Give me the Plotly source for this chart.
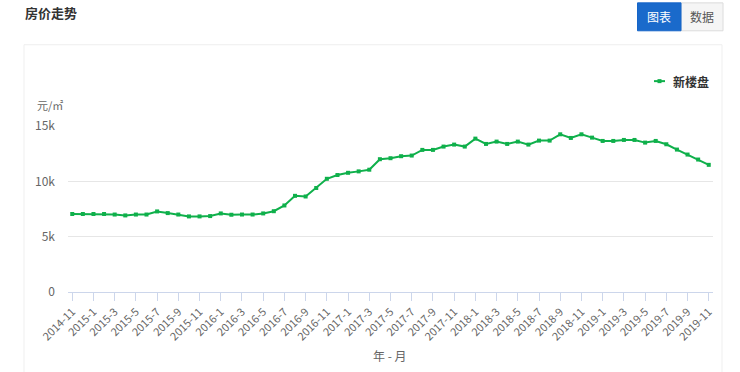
import plotly.graph_objects as go

# ---- data ----
months = []
for y in range(2014, 2020):
    for m in range(1, 13):
        if (y == 2014 and m < 11) or (y == 2019 and m > 11):
            continue
        months.append(f"{y}-{m}")

prices = [
    7050, 7050, 7050, 7050, 7000, 6920, 7000, 7000, 7280, 7130,
    7000, 6830, 6830, 6860, 7100, 6980, 7000, 7000, 7100, 7300,
    7820, 8690, 8630, 9400, 10230, 10570, 10770, 10900, 11050, 12000,
    12090, 12270, 12330, 12840, 12840, 13140, 13320, 13140, 13860, 13380,
    13590, 13380, 13590, 13320, 13680, 13680, 14250, 13920, 14250, 13950,
    13650, 13650, 13740, 13740, 13500, 13650, 13350, 12870, 12420, 11970,
    11490,
]
series_name = "新楼盘"
y_tick_vals = [0, 5000, 10000, 15000]
y_tick_text = ["0", "5k", "10k", "15k"]
x_tick_vals = months[::2]

# ---- layout geometry (pixels, in window coordinates) ----
W, H = 740, 372
L, R, T, B = 68, 713, 126, 292.5
GREEN = "#0fb04b"
FONT = "Noto Sans CJK SC"


def px(p):
    return (p - L) / (R - L)


def py(p):
    return (B - p) / (B - T)


fig = go.Figure()
fig.add_trace(go.Scatter(
    x=months, y=prices, mode="lines+markers", name=series_name,
    line=dict(color=GREEN, width=2),
    marker=dict(symbol="square", size=4, color=GREEN),
    cliponaxis=False, showlegend=False,
))

shapes = [
    # chart panel
    dict(type="rect", xref="paper", yref="paper",
         x0=px(24), x1=px(722), y0=py(400), y1=py(44.5),
         line=dict(color="#efefef", width=1), fillcolor="rgba(0,0,0,0)", layer="below"),
    # buttons
    dict(type="rect", xref="paper", yref="paper",
         x0=px(681), x1=px(723), y0=py(30.5), y1=py(2.5),
         line=dict(color="#dcdcdc", width=1), fillcolor="#f5f5f5"),
    dict(type="rect", xref="paper", yref="paper",
         x0=px(637.5), x1=px(681), y0=py(30.5), y1=py(2.5),
         line=dict(color="#1565c8", width=1), fillcolor="#1a6acb"),
    # legend symbol
    dict(type="line", xref="paper", yref="paper",
         x0=px(654), x1=px(665), y0=py(81), y1=py(81),
         line=dict(color=GREEN, width=2)),
    dict(type="rect", xref="paper", yref="paper",
         x0=px(657.5), x1=px(661.5), y0=py(83), y1=py(79),
         line=dict(color=GREEN, width=0), fillcolor=GREEN),
]

annotations = [
    dict(text="<b>房价走势</b>", xref="paper", yref="paper", x=px(23), y=py(12),
         xanchor="left", yanchor="middle", showarrow=False,
         font=dict(family=FONT, size=13, color="#333333")),
    dict(text="图表", xref="paper", yref="paper", x=px(659), y=py(16),
         xanchor="center", yanchor="middle", showarrow=False,
         font=dict(family=FONT, size=12, color="#ffffff")),
    dict(text="数据", xref="paper", yref="paper", x=px(702), y=py(16),
         xanchor="center", yanchor="middle", showarrow=False,
         font=dict(family=FONT, size=12, color="#555555")),
    dict(text="<b>" + series_name + "</b>", xref="paper", yref="paper", x=px(671), y=py(81),
         xanchor="left", yanchor="middle", showarrow=False,
         font=dict(family=FONT, size=12, color="#333333")),
    dict(text="元/㎡", xref="paper", yref="paper", x=px(35), y=py(105),
         xanchor="left", yanchor="middle", showarrow=False,
         font=dict(family=FONT, size=11, color="#666666")),
    dict(text="年 - 月", xref="paper", yref="paper", x=px(390), y=py(356),
         xanchor="center", yanchor="middle", showarrow=False,
         font=dict(family=FONT, size=12, color="#666666")),
]

fig.update_layout(
    width=W, height=H,
    margin=dict(l=L, r=W - R, t=T, b=H - B, pad=0),
    paper_bgcolor="#ffffff", plot_bgcolor="#ffffff",
    font=dict(family=FONT, size=11, color="#666666"),
    shapes=shapes, annotations=annotations,
    showlegend=False,
)
fig.update_xaxes(
    type="category", range=[-0.4, len(months) - 0.6],
    tickmode="array", tickvals=x_tick_vals, ticktext=x_tick_vals,
    tickangle=-45, ticks="outside", ticklen=8, tickcolor="#ccd6eb",
    showline=True, linecolor="#ccd6eb", linewidth=1,
    showgrid=False, zeroline=False,
    tickfont=dict(family=FONT, size=11, color="#666666"),
)
fig.update_yaxes(
    range=[0, 15000], tickmode="array", tickvals=y_tick_vals, ticktext=y_tick_text,
    showgrid=True, gridcolor="#e6e6e6", gridwidth=1,
    zeroline=False, showline=False, ticks="", ticklabelstandoff=12,
    tickfont=dict(family=FONT, size=12, color="#666666"),
)

fig.write_html(
    "out.html",
    config={"displayModeBar": False},
    post_script="document.body.style.margin='0';document.body.style.overflow='hidden';",
)
